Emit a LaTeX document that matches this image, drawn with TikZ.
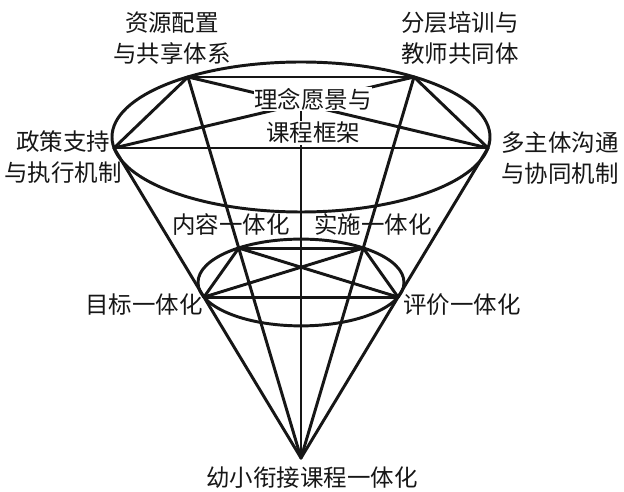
\documentclass[tikz,border=0pt]{standalone}
\usepackage{fontspec}
\newfontfamily\cjk{Noto Sans CJK SC}
\usetikzlibrary{calc}
\definecolor{coneink}{RGB}{22,22,22}
\tikzset{
  cone/.style={draw=coneink, line width=2.1pt, line join=round, line cap=round},
  lbl/.style={font=\cjk\fontsize{16.7}{22}\selectfont, text=coneink,
    align=center, inner sep=1pt},
  midlbl/.style={lbl, fill=white, inner sep=0.5pt}
}
\begin{document}
\begin{tikzpicture}[x=0.25mm, y=-0.25mm]
  \useasboundingbox (0,0) rectangle (624,492);
  % apex and upper ring
  \coordinate (apex) at (301,458);
  \coordinate (bL) at (114,148);
  \coordinate (bTL) at (188,77);
  \coordinate (bTR) at (414,77);
  \coordinate (bR) at (488,148);
  \coordinate (bX) at (301,103.7);
  % lower ring sits on the generators
  \coordinate (sL) at ($(apex)!0.519!(bL)$);
  \coordinate (sTL) at ($(apex)!0.551!(bTL)$);
  \coordinate (sTR) at ($(apex)!0.551!(bTR)$);
  \coordinate (sR) at ($(apex)!0.519!(bR)$);
  \draw[cone] (301,137) ellipse [x radius=189, y radius=75];
  \draw[cone] (301,282.5) ellipse [x radius=103, y radius=43.4];
  \foreach \p/\q in {bTL/bTR,bL/bR,bTL/bL,bTR/bR,bTL/bR,bL/bTR,
                     sTL/sTR,sL/sR,sTL/sL,sTR/sR,sTL/sR,sL/sTR}
    \draw[cone] (\p) -- (\q);
  \foreach \p in {bL,bTL,bTR,bR}
    \draw[cone] (apex) -- (\p);
  \draw[cone] (bX) -- (apex);
  % labels
  \node[midlbl] (vision) at (313,99) {理念愿景与};
  \node[midlbl] (frame) at (313,133) {课程框架};
  \node[lbl] (resource) at (172,38) {资源配置\\与共享体系};
  \node[lbl] (training) at (460,38) {分层培训与\\教师共同体};
  \node[lbl] (policy) at (63,157) {政策支持\\与执行机制};
  \node[lbl] (multi) at (560,158) {多主体沟通\\与协同机制};
  \node[lbl] (content) at (231,225) {内容一体化};
  \node[lbl] (practice) at (373,225) {实施一体化};
  \node[lbl] (goal) at (144,305) {目标一体化};
  \node[lbl] (assess) at (462,305) {评价一体化};
  \node[lbl] (bottom) at (312,478) {幼小衔接课程一体化};
\end{tikzpicture}
\end{document}
